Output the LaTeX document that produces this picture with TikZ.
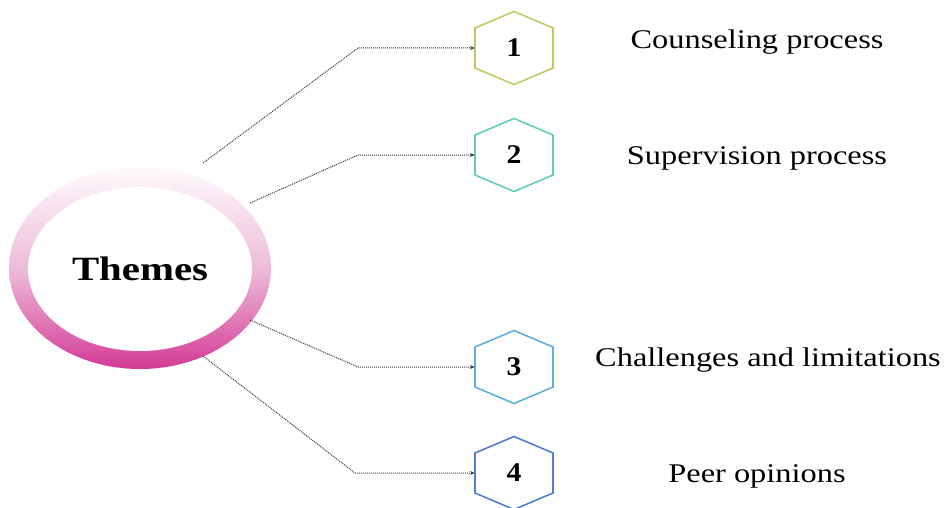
\documentclass[tikz,border=0pt]{standalone}
\usepackage{fontspec}
\setmainfont{Liberation Serif}
\usetikzlibrary{arrows.meta,shapes.geometric,calc}
\definecolor{hexA}{HTML}{B8CF5F}
\definecolor{hexB}{HTML}{63CDBA}
\definecolor{hexC}{HTML}{5FAFE0}
\definecolor{hexD}{HTML}{4F80D0}
\definecolor{ringtop}{HTML}{FFFAFD}
\definecolor{ringmid}{HTML}{EDBCD9}
\definecolor{ringbot}{HTML}{D43A96}
\definecolor{linkcol}{HTML}{3A3A3A}
\newcommand{\hexpath}[2]{%
  \draw[hexline,#2] ([shift={(0,-36.5)}]#1.center) -- ([shift={(39,-20)}]#1.center) -- ([shift={(39,20)}]#1.center) -- ([shift={(0,36.5)}]#1.center) -- ([shift={(-39,20)}]#1.center) -- ([shift={(-39,-20)}]#1.center) -- cycle;}
\begin{document}
\begin{tikzpicture}[x=1pt,y=-1pt,
  hexbox/.style={minimum width=78pt,minimum height=73pt,inner sep=0pt,font=\fontsize{27}{30}\selectfont\bfseries},
  hexline/.style={line width=1.6pt,line join=miter},
  label/.style={font=\fontsize{27}{30}\selectfont,inner sep=0pt},
  link/.style={densely dotted,line width=1pt,color=linkcol,-{Stealth[length=5pt,width=4pt]}}]
\useasboundingbox (0,0) rectangle (944,508);
% ring
\node[ellipse,minimum width=262pt,minimum height=202pt,inner sep=0pt,
  top color=ringtop,bottom color=ringbot,middle color=ringmid] (ring) at (140,268) {};
\node[ellipse,minimum width=224pt,minimum height=164pt,inner sep=0pt,fill=white,
  font=\fontsize{34}{36}\selectfont\bfseries] (themes) at (140,269) {\scalebox{1.2}[1]{Themes}};
% hexagons
\node[hexbox] (h1) at (514,48) {\scalebox{1.1}[1]{1}};
\node[hexbox] (h2) at (514,155) {\scalebox{1.1}[1]{2}};
\node[hexbox] (h3) at (514,367) {\scalebox{1.1}[1]{3}};
\node[hexbox] (h4) at (514,473) {\scalebox{1.1}[1]{4}};
\hexpath{h1}{hexA}
\hexpath{h2}{hexB}
\hexpath{h3}{hexC}
\hexpath{h4}{hexD}
% labels
\node[label] (l1) at (757,42) {\scalebox{1.2}[1]{Counseling process}};
\node[label] (l2) at (757,158) {\scalebox{1.2}[1]{Supervision process}};
\node[label] (l3) at (768,360) {\scalebox{1.2}[1]{Challenges and limitations}};
\node[label] (l4) at (757,476) {\scalebox{1.2}[1]{Peer opinions}};
% connectors
\coordinate (s1) at (203,163);
\coordinate (b1) at (358,48);
\coordinate (s2) at (250,203);
\coordinate (b2) at (358,155);
\coordinate (s3) at (250,320);
\coordinate (b3) at (358,367);
\coordinate (s4) at (203,356);
\coordinate (b4) at (355,473);
\draw[link] (s1) -- (b1) -- (h1.west);
\draw[link] (s2) -- (b2) -- (h2.west);
\draw[link] (s3) -- (b3) -- (h3.west);
\draw[link] (s4) -- (b4) -- (h4.west);
\end{tikzpicture}
\end{document}
